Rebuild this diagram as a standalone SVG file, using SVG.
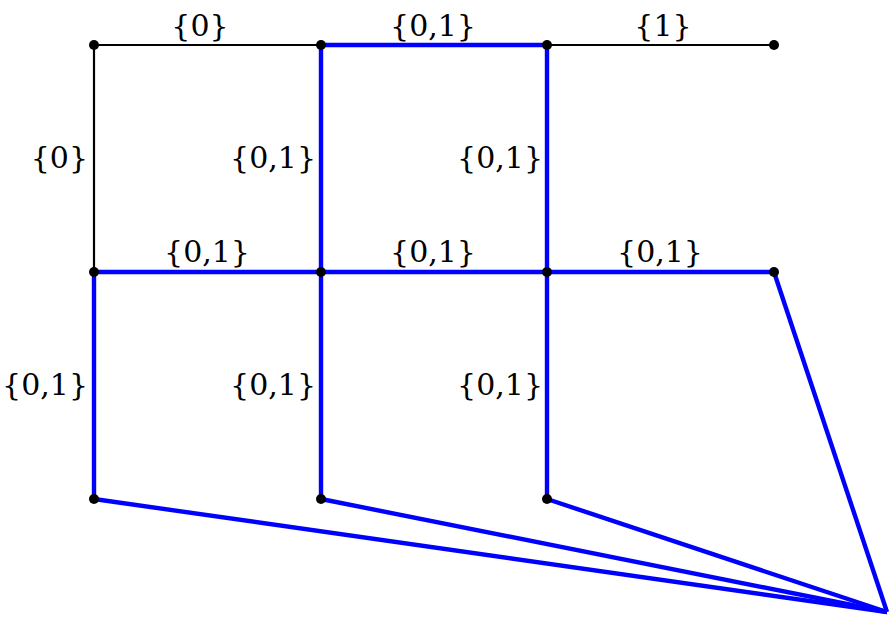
<svg xmlns="http://www.w3.org/2000/svg" width="895" height="620" viewBox="0 0 895 620">
<style>
.k{stroke:#000;stroke-width:2.2;fill:none}
.b{stroke:#0000ff;stroke-width:4.4;fill:none;stroke-linejoin:round}
.d{fill:#000}
text{font-family:"DejaVu Serif","Liberation Serif",serif;font-size:30px;fill:#000}
.m{text-anchor:middle}
.e{text-anchor:end}
</style>
<rect width="895" height="620" fill="#fff"/>
<g id="connectors">
<line class="k" x1="94" y1="45" x2="321" y2="45"/>
<line class="k" x1="547" y1="45" x2="774" y2="45"/>
<line class="k" x1="94" y1="45" x2="94" y2="272"/>
<line class="b" x1="321" y1="45" x2="547" y2="45"/>
<line class="b" x1="321" y1="45" x2="321" y2="499"/>
<line class="b" x1="547" y1="45" x2="547" y2="499"/>
<line class="b" x1="94" y1="272" x2="774" y2="272"/>
<line class="b" x1="94" y1="272" x2="94" y2="499"/>
<polyline class="b" points="774,272 887,612"/>
<line class="b" x1="94" y1="499" x2="887" y2="612"/>
<line class="b" x1="321" y1="499" x2="887" y2="612"/>
<line class="b" x1="547" y1="499" x2="887" y2="612"/>
</g>
<g id="labels">
<text class="m" x="200" y="36">{0}</text>
<text class="m" x="433" y="36">{0,1}</text>
<text class="m" x="663" y="36">{1}</text>
<text class="e" x="88" y="168">{0}</text>
<text class="e" x="316" y="168">{0,1}</text>
<text class="e" x="543" y="168">{0,1}</text>
<text class="m" x="207" y="262">{0,1}</text>
<text class="m" x="433" y="262">{0,1}</text>
<text class="m" x="660" y="262">{0,1}</text>
<text class="e" x="88" y="395">{0,1}</text>
<text class="e" x="316" y="395">{0,1}</text>
<text class="e" x="543" y="395">{0,1}</text>
</g>
<g id="n1"><circle class="d" cx="94" cy="45" r="5"/></g>
<g id="n2"><circle class="d" cx="321" cy="45" r="5"/></g>
<g id="n3"><circle class="d" cx="547" cy="45" r="5"/></g>
<g id="n4"><circle class="d" cx="774" cy="45" r="5"/></g>
<g id="n5"><circle class="d" cx="94" cy="272" r="5"/></g>
<g id="n6"><circle class="d" cx="321" cy="272" r="5"/></g>
<g id="n7"><circle class="d" cx="547" cy="272" r="5"/></g>
<g id="n8"><circle class="d" cx="774" cy="272" r="5"/></g>
<g id="n9"><circle class="d" cx="94" cy="499" r="5"/></g>
<g id="n10"><circle class="d" cx="321" cy="499" r="5"/></g>
<g id="n11"><circle class="d" cx="547" cy="499" r="5"/></g>
</svg>
